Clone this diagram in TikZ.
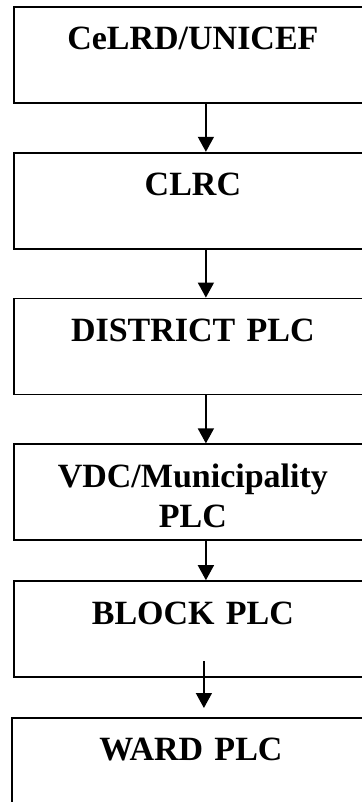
\documentclass[tikz,border=0pt]{standalone}
\usepackage{fontspec}
\setmainfont{Liberation Serif}
\usetikzlibrary{arrows.meta,positioning,calc}
\tikzset{
  flow/.style={-{Triangle[length=15pt,width=16pt]},line width=1.5pt},
  box/.style={draw,line width=1.8pt,fill=white,inner xsep=14pt,inner ysep=0pt,
              text width=330pt,align=center,text height=43pt,text depth=53pt,
              font=\fontsize{34}{40}\selectfont\bfseries}
}
\begin{document}
\begin{tikzpicture}
  \useasboundingbox (0,0) rectangle (361pt,-802pt);
  \node[box,anchor=north west] (cel) at (13pt,-6pt) {CeLRD/UNICEF};
  \node[box,below=48pt of cel] (clrc) {CLRC};
  \node[box,below=48pt of clrc] (district) {DISTRICT PLC};
  \node[box,below=48pt of district] (vdc) {VDC/Municipality\\PLC};
  \node[box,below=39pt of vdc] (block) {BLOCK PLC};
  \node[box,below=39pt of block,xshift=-2pt,text depth=60pt] (ward) {WARD PLC};
  \draw[flow] ([xshift=13pt]cel.south) -- ([xshift=13pt]clrc.north);
  \draw[flow] ([xshift=13pt]clrc.south) -- ([xshift=13pt]district.north);
  \draw[flow] ([xshift=13pt]district.south) -- ([xshift=13pt]vdc.north);
  \draw[flow] ([xshift=13pt]vdc.south) -- ([xshift=13pt]block.north);
  \draw[flow] ([xshift=11pt,yshift=17pt]block.south) -- ([xshift=13pt,yshift=9pt]ward.north);
\end{tikzpicture}
\end{document}
